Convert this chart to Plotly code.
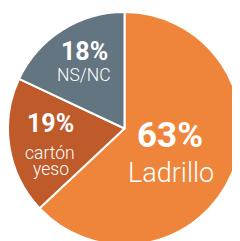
import plotly.graph_objects as go

labels = ["Ladrillo", "cartón yeso", "NS/NC"]
values = [63, 19, 18]
colors = ["#EE853A", "#BF5A2A", "#627580"]

# page body has an 8px margin; figure is placed after it
OFF = 8
W, H = 233, 237
L, T = 0, 4
PW, PH = W - L, H - T

fig = go.Figure(go.Pie(
    labels=labels, values=values, sort=False, direction="clockwise", rotation=0,
    marker=dict(colors=colors, line=dict(color="white", width=2)),
    textinfo="none", hoverinfo="skip", showlegend=False,
))

# text placement (page pixel centres, font size, bold?)
texts = [
    (f"{values[0]}%", 170, 135, 35, True),
    ("Ladrillo", 170.5, 173, 27, False),
    (f"{values[1]}%", 50.5, 124, 25, True),
    ("cartón", 49.5, 153, 17.5, False),
    ("yeso", 50.5, 169, 17.5, False),
    (f"{values[2]}%", 84, 51.5, 25, True),
    ("NS/NC", 83.5, 75, 17.5, False),
]

anns = []
for t, x, y, s, b in texts:
    anns.append(dict(
        x=(x - OFF - L) / PW, y=1 - (y - OFF - T) / PH, xref="paper", yref="paper", showarrow=False,
        text=f"<b>{t}</b>" if b else t,
        font=dict(family="Roboto", size=s, color="white", weight=700 if b else 300),
        xanchor="center", yanchor="middle",
    ))

fig.update_layout(
    width=W, height=H, margin=dict(l=L, r=0, t=T, b=0),
    paper_bgcolor="white", plot_bgcolor="white", annotations=anns,
)
fig.write_html("out.html")
